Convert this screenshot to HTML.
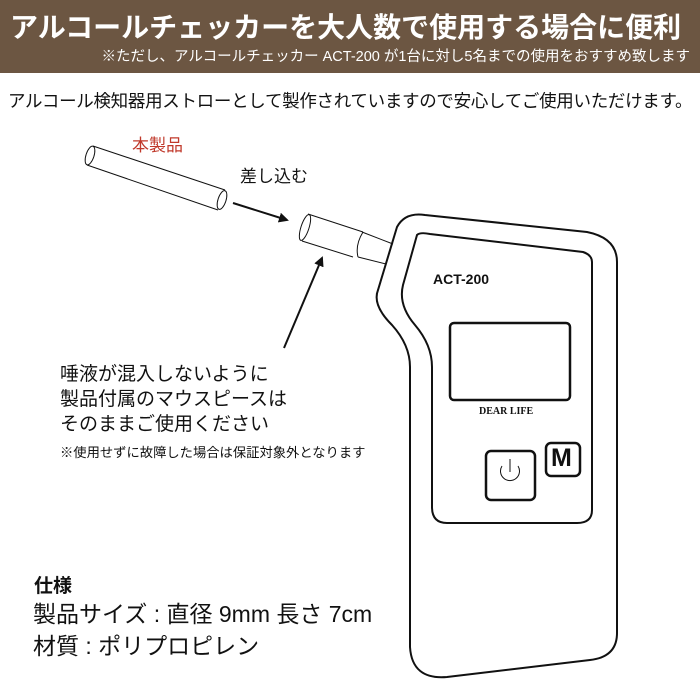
<!DOCTYPE html>
<html><head><meta charset="utf-8"><style>
body{margin:0;width:700px;height:700px;background:#fff;position:relative;overflow:hidden;font-family:"Liberation Sans","Noto Sans CJK JP",sans-serif;color:#111}
.t{position:absolute;white-space:nowrap}
#hd{position:absolute;left:0;top:0;width:700px;height:73px;background:#6c5642}
</style></head><body>
<div id="hd"></div>
<div class="t" style="left:10px;top:6px;width:680px;font-size:28px;font-weight:bold;color:#fff;letter-spacing:0px">アルコールチェッカーを大人数で使用する場合に便利</div>
<div class="t" style="right:10px;top:45px;font-size:14.5px;color:#fff">※ただし、アルコールチェッカー ACT-200 が1台に対し5名までの使用をおすすめ致します</div>
<div class="t" style="left:8px;top:88px;font-size:17.5px;letter-spacing:-0.3px">アルコール検知器用ストローとして製作されていますので安心してご使用いただけます。</div>
<div class="t" style="left:132px;top:131px;font-size:17px;color:#c0392b">本製品</div>
<div class="t" style="left:240px;top:162px;font-size:17px">差し込む</div>
<svg width="700" height="700" style="position:absolute;left:0;top:0" fill="none" stroke="#111">
<defs><marker id="a" markerWidth="10" markerHeight="10" refX="8" refY="5" orient="auto" markerUnits="userSpaceOnUse"><path d="M0,0L10,5L0,10z" fill="#111" stroke="none"/></marker></defs>
<g stroke-width="1">
<path d="M93,146L225,190M87,165L218,210"/>
<ellipse cx="90" cy="155.5" rx="4" ry="9.7" transform="rotate(18 90 155.5)"/>
<ellipse cx="222" cy="200" rx="4" ry="9.7" transform="rotate(18 222 200)"/>
<path d="M308,214L363,232M302,241L353,257"/>
<ellipse cx="305" cy="227.5" rx="4" ry="13.5" transform="rotate(18 305 227.5)"/>
<path d="M363,232Q355,245 358,257M362,232L393,244M358,257L386,264"/>
</g>
<path d="M233,203L287,220" stroke-width="2" marker-end="url(#a)"/>
<path d="M284,348L322,258" stroke-width="2" marker-end="url(#a)"/>
<g stroke-width="2">
<path d="M397,227Q405,212 425,215L587,232Q617,238 617,262L617,633Q617,657 590,660L447,677Q412,680 410,647L410,367Q410,345 392,325Q372,305 378,290Z"/>
<path d="M417,235Q420,232 430,234L583,252Q592,255 592,262L592,510Q592,523 577,523L447,523Q432,523 432,507L432,367Q432,345 415,325Q398,305 403,285Z"/>
<rect x="450" y="323" width="120" height="77" rx="4" stroke-width="2.5"/>
<rect x="486" y="451" width="49" height="49" rx="5" stroke-width="2.5"/>
<rect x="546" y="443" width="34" height="33" rx="5" stroke-width="2.5"/>
</g>
<path d="M502,466A9.5,9.5 0 1 0 518,466M510,459L510,472" stroke-width="1"/>
</svg>
<div class="t" style="left:433px;top:271px;font-size:14px;font-weight:bold">ACT-200</div>
<div class="t" style="left:479px;top:406px;font-size:10px;font-weight:bold;font-family:'Liberation Serif',serif">DEAR LIFE</div>
<div class="t" style="left:551px;top:444px;font-size:25px;font-weight:bold">M</div>
<div class="t" style="left:60px;top:362px;font-size:19px;line-height:25px">唾液が混入しないように<br>製品付属のマウスピースは<br>そのままご使用ください</div>
<div class="t" style="left:60px;top:442px;font-size:13.3px">※使用せずに故障した場合は保証対象外となります</div>
<div class="t" style="left:34px;top:571px;font-size:19px;font-weight:bold">仕様</div>
<div class="t" style="left:33px;top:598px;font-size:23px;line-height:32px">製品サイズ : 直径 9mm 長さ 7cm<br>材質 : ポリプロピレン</div>
</body></html>
